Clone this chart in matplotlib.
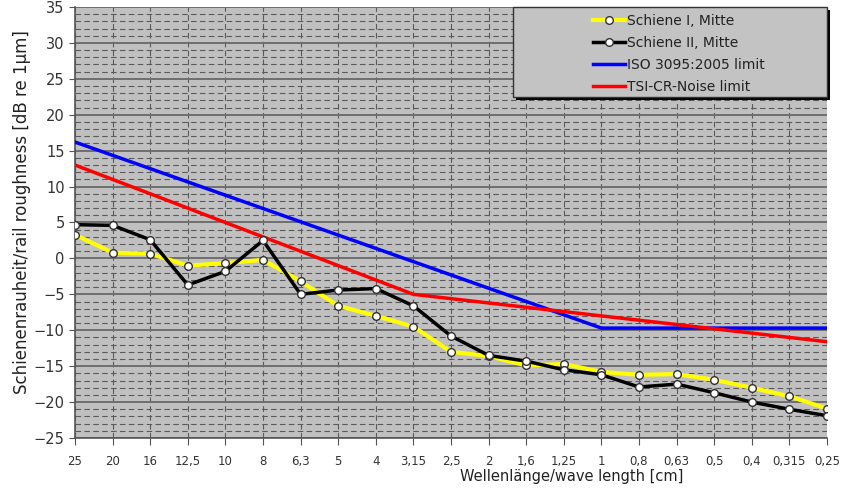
import matplotlib
matplotlib.use("Agg")
import matplotlib.pyplot as plt
from matplotlib.patches import Rectangle
from matplotlib.ticker import MultipleLocator

categories = ["25", "20", "16", "12,5", "10", "8", "6,3", "5", "4", "3,15", "2,5",
              "2", "1,6", "1,25", "1", "0,8", "0,63", "0,5", "0,4", "0,315", "0,25"]

schiene1 = [3.3, 0.8, 0.65, -1.0, -0.65, -0.2, -3.2, -6.6, -8.0, -9.5, -13.0,
            -13.6, -14.9, -14.7, -15.8, -16.2, -16.1, -16.9, -18.0, -19.2, -20.9]
schiene2 = [4.7, 4.6, 2.6, -3.7, -1.8, 2.5, -5.0, -4.4, -4.2, -6.6, -10.8,
            -13.5, -14.3, -15.5, -16.2, -17.9, -17.5, -18.7, -20.0, -21.0, -21.9]

iso_x = ["25", "1", "0,25"]
iso_y = [16.2, -9.7, -9.7]
tsi_x = ["25", "3,15", "0,25"]
tsi_y = [13.0, -5.0, -11.6]

labels = ["Schiene I, Mitte", "Schiene II, Mitte", "ISO 3095:2005 limit", "TSI-CR-Noise limit"]

fig = plt.figure(figsize=(8.52, 4.91), dpi=100)
ax = fig.add_axes([75/852, 1-438/491, 752/852, 431/491])
ax.set_facecolor("#c0c0c0")

pos = {c: i for i, c in enumerate(categories)}
xs = [pos[c] for c in categories]

l1, = ax.plot(xs, schiene1, color="#ffff00", lw=3, marker="o", ms=5.5,
              mfc="white", mec="#303030", mew=1, zorder=5)
l2, = ax.plot(xs, schiene2, color="black", lw=2.5, marker="o", ms=5.5,
              mfc="white", mec="#303030", mew=1, zorder=6)
l3, = ax.plot([pos[c] for c in iso_x], iso_y, color="#0000ff", lw=2.5, zorder=4)
l4, = ax.plot([pos[c] for c in tsi_x], tsi_y, color="#ff0000", lw=2.5, zorder=4)

ax.set_xlim(0, len(categories) - 1)
ax.set_ylim(-25, 35)
ax.set_xticks(xs)
ax.set_xticklabels(categories, fontsize=8.5, color="#333333")
ax.yaxis.set_major_locator(MultipleLocator(5))
ax.yaxis.set_minor_locator(MultipleLocator(1))
ax.tick_params(axis="y", which="major", labelsize=10.5, length=4, color="#555555",
               labelcolor="#333333")
ax.tick_params(axis="y", which="minor", length=0)
ax.tick_params(axis="x", length=5, color="#555555", pad=7)

ax.grid(which="major", axis="y", color="#6e6e6e", lw=1.4, ls="-", zorder=1)
ax.grid(which="minor", axis="y", color="#5a5a5a", lw=0.8, ls=(0, (5, 3)), zorder=1)
ax.grid(which="major", axis="x", color="#5a5a5a", lw=0.8, ls=(0, (5, 3)), zorder=1)
ax.set_axisbelow(True)

for s in ["top", "right"]:
    ax.spines[s].set_visible(False)
for s in ["left", "bottom"]:
    ax.spines[s].set_color("#555555")
    ax.spines[s].set_linewidth(1.2)

ax.set_ylabel("Schienenrauheit/rail roughness [dB re 1µm]", fontsize=12, color="#222222")
ax.yaxis.set_label_coords(-0.058, 0.524)
ax.set_xlabel("Wellenlänge/wave length [cm]", fontsize=10.5, color="#222222")
ax.xaxis.set_label_coords(0.66, -0.072)

# legend box with shadow
x0, y0 = 0.582, 0.792
shadow = Rectangle((x0 + 0.004, y0 - 0.007), 1.0 - x0, 1.0 - y0, transform=ax.transAxes,
                   facecolor="black", edgecolor="none", zorder=9, clip_on=False)
box = Rectangle((x0, y0), 1.0 - x0, 1.0 - y0, transform=ax.transAxes,
                facecolor="#c3c3c3", edgecolor="#333333", lw=1, zorder=10, clip_on=False)
ax.add_patch(shadow)
ax.add_patch(box)
leg = ax.legend([l1, l2, l3, l4], labels, loc="upper left",
                bbox_to_anchor=(0.682, 0.996), frameon=False, fontsize=10,
                handlelength=2.3, handletextpad=0.1, labelspacing=0.56,
                numpoints=1, borderaxespad=0)
leg.set_zorder(11)
for t in leg.get_texts():
    t.set_color("#222222")

fig.savefig("out.png", dpi=100)
